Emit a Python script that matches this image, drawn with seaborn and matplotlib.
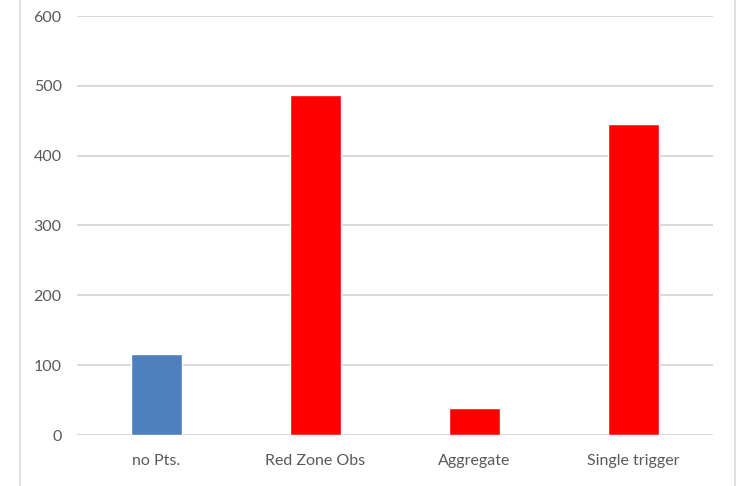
import matplotlib
matplotlib.use("Agg")
import matplotlib.pyplot as plt
from matplotlib.lines import Line2D
import seaborn as sns
import pandas as pd

categories = ["no Pts.", "Red Zone Obs", "Aggregate", "Single trigger"]
counts = [116, 487, 38, 446]
bar_colors = ["#4F7FBD", "#FF0000", "#FF0000", "#FF0000"]
y_ticks = [0, 100, 200, 300, 400, 500, 600]

sns.set_theme(style="white")
plt.rcParams["font.family"] = ["Lato", "DejaVu Sans"]

df = pd.DataFrame({"category": categories, "count": counts})

fig = plt.figure(figsize=(7.45, 4.86), dpi=100)
ax = fig.add_axes([77 / 745, 51 / 486, 636 / 745, 419 / 486])

sns.barplot(data=df, x="category", y="count", hue="category",
            palette=bar_colors, width=0.32, legend=False, ax=ax,
            saturation=1, zorder=3)

ax.set_ylim(0, 600)
ax.set_xlim(-0.5, len(categories) - 0.5)
ax.set_yticks(y_ticks)
ax.set_yticklabels([str(v) for v in y_ticks])
ax.yaxis.grid(True, color="#D9D9D9", linewidth=1.4, zorder=0)
ax.xaxis.grid(False)
ax.set_axisbelow(True)
for s in ax.spines.values():
    s.set_visible(False)
ax.set_xlabel("")
ax.set_ylabel("")
ax.tick_params(axis="y", length=0, pad=11, labelsize=11.5, labelcolor="#595959")
ax.tick_params(axis="x", length=0, pad=14, labelsize=11.5, labelcolor="#595959")

# chart frame edges on the left and right
for x in (20 / 745, 735 / 745):
    fig.add_artist(Line2D([x, x], [0, 1], transform=fig.transFigure,
                          color="#D9D9D9", linewidth=1.2))

fig.savefig("out.png", dpi=100, facecolor="white")
